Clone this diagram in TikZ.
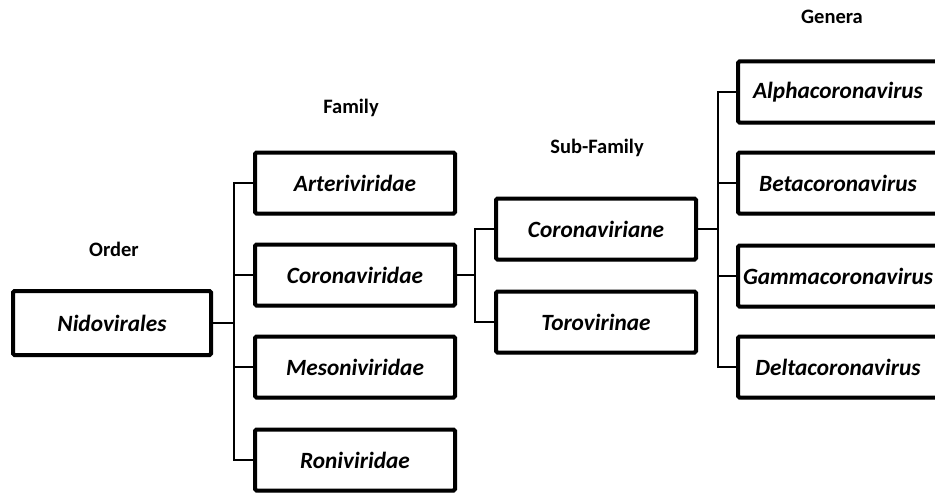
\documentclass[tikz,border=0pt]{standalone}
\usepackage{fontspec}
\setmainfont{Carlito}
\usetikzlibrary{shadows}
\begin{document}
\begin{tikzpicture}[x=1pt,y=-1pt,
  taxbox/.style={draw=black, line width=4pt, rounded corners=1.5pt, fill=white,
    minimum width=200pt, minimum height=61pt, inner sep=0pt,
    font=\fontsize{23.3}{27}\selectfont\bfseries\itshape,
    drop shadow={opacity=0.25, shadow xshift=1.5pt, shadow yshift=-2pt}},
  rankhead/.style={font=\fontsize{20.5}{24}\selectfont\bfseries, inner sep=0pt},
  link/.style={draw=black, line width=2pt}]
\clip (0,0) rectangle (935,495);
\useasboundingbox (0,0) rectangle (935,495);
% headers
\node[rankhead] (hOrder) at (114,249) {Order};
\node[rankhead] (hFamily) at (351,108) {Family};
\node[rankhead] (hSub) at (597,148) {Sub-Family};
\node[rankhead] (hGen) at (832,17) {Genera};
% boxes
\node[taxbox, minimum width=198pt, minimum height=64pt] (nid) at (112,323) {Nidovirales};
\node[taxbox] (art) at (355,183) {Arteriviridae};
\node[taxbox] (cor) at (355,275) {Coronaviridae};
\node[taxbox] (mes) at (355,367) {Mesoniviridae};
\node[taxbox] (ron) at (355,460) {Roniviridae};
\node[taxbox] (corv) at (596,229) {Coronaviriane};
\node[taxbox] (tor) at (596,322) {Torovirinae};
\node[taxbox] (alp) at (838,92) {Alphacoronavirus};
\node[taxbox] (bet) at (838,183) {Betacoronavirus};
\node[taxbox] (gam) at (838,276) {Gammacoronavirus};
\node[taxbox] (del) at (838,367) {Deltacoronavirus};
% trunks
\coordinate (t1) at (234,0);
\coordinate (t2) at (475,0);
\coordinate (t3) at (718,0);
% connectors
\draw[link] (nid.east) -- (nid.east -| t1);
\draw[link] (art.west) -- (art.west -| t1) -- (ron.west -| t1) -- (ron.west);
\draw[link] (cor.west) -- (cor.west -| t1);
\draw[link] (mes.west) -- (mes.west -| t1);
\draw[link] (cor.east) -- (cor.east -| t2);
\draw[link] (corv.west) -- (corv.west -| t2) -- (tor.west -| t2) -- (tor.west);
\draw[link] (corv.east) -- (corv.east -| t3);
\draw[link] (alp.west) -- (alp.west -| t3) -- (del.west -| t3) -- (del.west);
\draw[link] (bet.west) -- (bet.west -| t3);
\draw[link] (gam.west) -- (gam.west -| t3);
\end{tikzpicture}
\end{document}
